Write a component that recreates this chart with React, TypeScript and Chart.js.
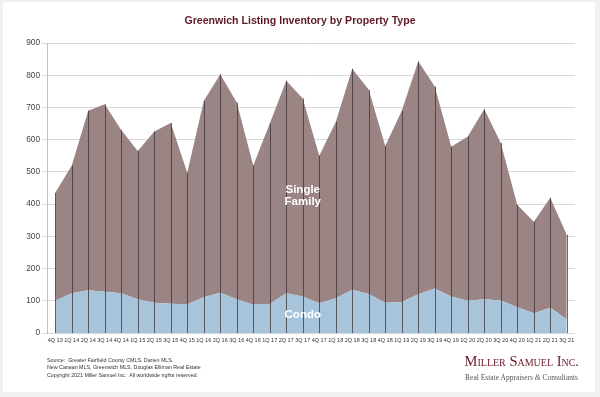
import React, { useEffect, useRef } from "react";
import { Chart, registerables } from "chart.js";

Chart.register(...registerables);

const quarters = [
  "4Q 13",
  "1Q 14", "2Q 14", "3Q 14", "4Q 14",
  "1Q 15", "2Q 15", "3Q 15", "4Q 15",
  "1Q 16", "2Q 16", "3Q 16", "4Q 16",
  "1Q 17", "2Q 17", "3Q 17", "4Q 17",
  "1Q 18", "2Q 18", "3Q 18", "4Q 18",
  "1Q 19", "2Q 19", "3Q 19", "4Q 19",
  "1Q 20", "2Q 20", "3Q 20", "4Q 20",
  "1Q 21", "2Q 21", "3Q 21",
];

const condo = [
  100, 123, 133, 128, 123, 105, 94, 91, 89, 111, 125, 105, 88, 90, 123, 113,
  92, 108, 134, 121, 94, 96, 120, 138, 113, 100, 105, 101, 80, 61, 78, 43,
];

const singleFamily = [
  335, 397, 557, 582, 507, 460, 531, 561, 408, 609, 678, 610, 432, 560, 660, 615,
  458, 547, 686, 634, 486, 594, 723, 627, 465, 510, 590, 489, 318, 284, 342, 262,
];

const yTicks = [0, 100, 200, 300, 400, 500, 600, 700, 800, 900];

const dropLines = {
  id: "dropLines",
  afterDatasetsDraw(chart: any) {
    const { ctx } = chart;
    const x = chart.scales.x;
    const y = chart.scales.y;
    ctx.save();
    ctx.strokeStyle = "rgba(55,45,50,0.72)";
    ctx.lineWidth = 1;
    quarters.forEach((_, i) => {
      const px = Math.round(x.getPixelForValue(i)) + 0.5;
      ctx.beginPath();
      ctx.moveTo(px, y.getPixelForValue(0));
      ctx.lineTo(px, y.getPixelForValue(condo[i] + singleFamily[i]));
      ctx.stroke();
    });
    ctx.fillStyle = "#ffffff";
    ctx.font = "bold 11.5px 'Liberation Sans', Arial, sans-serif";
    ctx.textAlign = "center";
    ctx.textBaseline = "middle";
    const lx = x.getPixelForValue(15);
    ctx.fillText("Single", lx, y.getPixelForValue(444));
    ctx.fillText("Family", lx, y.getPixelForValue(407));
    ctx.fillText("Condo", lx, y.getPixelForValue(55));
    ctx.restore();
  },
};

export default function App() {
  const ref = useRef<HTMLCanvasElement>(null);

  useEffect(() => {
    if (!ref.current) return;
    const chart = new Chart(ref.current, {
      type: "line",
      data: {
        labels: quarters,
        datasets: [
          {
            label: "Condo",
            data: condo,
            fill: "origin",
            backgroundColor: "#a8c4da",
            borderColor: "#a8c4da",
            borderWidth: 0,
            pointRadius: 0,
            tension: 0,
            stack: "s",
          },
          {
            label: "Single Family",
            data: singleFamily,
            fill: "-1",
            backgroundColor: "#9a8584",
            borderColor: "#9a8584",
            borderWidth: 0,
            pointRadius: 0,
            tension: 0,
            stack: "s",
          },
        ],
      },
      options: {
        animation: false,
        responsive: false,
        maintainAspectRatio: false,
        layout: { padding: { left: 0, right: 25, top: 43, bottom: 0 } },
        plugins: {
          legend: { display: false },
          title: { display: false },
          tooltip: { enabled: false },
        },
        scales: {
          x: {
            offset: true,
            grid: { display: false, drawTicks: false },
            border: { display: false },
            ticks: {
              autoSkip: false,
              maxRotation: 0,
              minRotation: 0,
              padding: 4,
              color: "#333",
              font: { size: 5.5, family: "'Liberation Sans', Arial, sans-serif" },
            },
            afterFit(scale: any) {
              scale.height = 64;
            },
          },
          y: {
            stacked: true,
            min: 0,
            max: 900,
            afterBuildTicks(scale: any) {
              scale.ticks = yTicks.map((v) => ({ value: v }));
            },
            grid: { color: "#d9d9d9", tickLength: 5, lineWidth: 1 },
            border: { display: true, color: "#c0c0c0" },
            ticks: {
              padding: 2,
              color: "#444",
              font: { size: 8.3, family: "'Liberation Sans', Arial, sans-serif" },
            },
            afterFit(scale: any) {
              scale.width = 47;
            },
          },
        },
      },
      plugins: [dropLines],
    });
    return () => chart.destroy();
  }, []);

  const sans = "'Liberation Sans', Arial, sans-serif";
  const serif = "'Liberation Serif', 'Times New Roman', serif";

  return (
    <div
      style={{
        position: "fixed",
        left: 0,
        top: 0,
        width: 600,
        height: 397,
        background: "#f1f1f1",
        overflow: "hidden",
      }}
    >
      <div
        style={{
          position: "absolute",
          left: 3,
          top: 2,
          width: 592,
          height: 390,
          background: "#ffffff",
        }}
      />
      <canvas
        ref={ref}
        width={600}
        height={397}
        style={{ position: "absolute", left: 0, top: 0, width: 600, height: 397 }}
      />
      <div
        style={{
          position: "absolute",
          left: 0,
          top: 13,
          width: 600,
          textAlign: "center",
          fontFamily: sans,
          fontWeight: "bold",
          fontSize: 10.6,
          color: "#5e1a28",
          lineHeight: "14px",
        }}
      >
        Greenwich Listing Inventory by Property Type
      </div>
      <div
        style={{
          position: "absolute",
          left: 47,
          top: 357,
          fontFamily: sans,
          fontSize: 5.3,
          color: "#333",
          lineHeight: "6.5px",
        }}
      >
        <div>Source:&nbsp; Greater Fairfield County CMLS, Darien MLS,</div>
        <div>New Canaan MLS, Greenwich MLS, Douglas Elliman Real Estate</div>
        <div style={{ marginTop: 2 }}>Copyright 2021 Miller Samuel Inc.&nbsp; All worldwide rights reserved.</div>
      </div>
      <div
        style={{
          position: "absolute",
          left: 440,
          top: 353,
          width: 139,
          textAlign: "right",
          fontFamily: serif,
          fontSize: 14.5,
          fontVariant: "small-caps",
          color: "#6b1a2a",
          lineHeight: "16px",
          whiteSpace: "nowrap",
        }}
      >
        Miller Samuel Inc.
      </div>
      <div
        style={{
          position: "absolute",
          left: 430,
          top: 373,
          width: 148,
          textAlign: "right",
          fontFamily: serif,
          fontSize: 7.5,
          color: "#555",
          lineHeight: "9px",
          whiteSpace: "nowrap",
        }}
      >
        Real Estate Appraisers <i>&amp;</i> Consultants
      </div>
    </div>
  );
}
